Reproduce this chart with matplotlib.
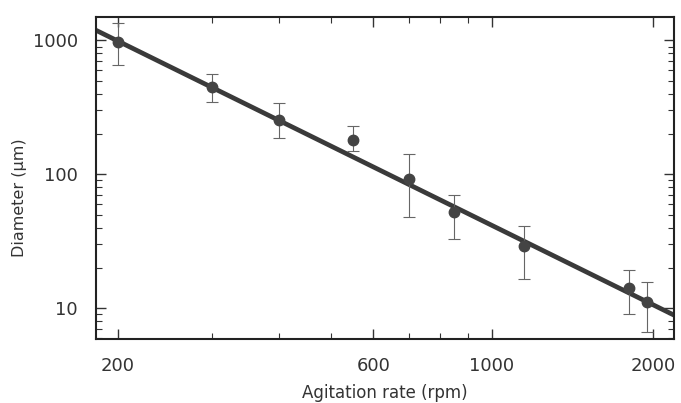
import matplotlib
matplotlib.use("Agg")
import matplotlib.pyplot as plt
import numpy as np
from matplotlib.ticker import FixedLocator, NullFormatter

plt.rcParams['font.family'] = ['DejaVu Sans']

# agitation rate (rpm) and droplet diameter (um) with error bar limits
rpm = [200, 300, 400, 550, 700, 850, 1150, 1800, 1950]
diam = [980, 446, 253, 182, 92, 52, 29, 14.1, 11.1]
diam_hi = [1360, 558, 339, 229, 141, 70, 41, 19.2, 15.6]
diam_lo = [651, 350, 186, 150, 48, 32.7, 16.4, 9.0, 6.7]

# power-law fit: D = D200 * (N / 200) ** slope
fit_d200 = 990
fit_slope = -1.97

x_ticks = [200, 600, 1000, 2000]
x_minor = [300, 400, 500, 700, 800, 900]
y_ticks = [10, 100, 1000]

ink = '#333333'

fig = plt.figure(figsize=(6.81, 4.03), dpi=100)
ax = fig.add_axes([0.141, 0.159, 0.849, 0.799])

xl = (182, 2190)
yl = (5.9, 1500)

xf = np.geomspace(xl[0], xl[1], 50)
ax.plot(xf, fit_d200 * (xf / 200.0) ** fit_slope, color='#3a3a3a', lw=3.4,
        solid_capstyle='butt', zorder=2)

d = np.array(diam)
yerr = [d - np.array(diam_lo), np.array(diam_hi) - d]
ax.errorbar(rpm, diam, yerr=yerr, fmt='o', color='#444444', ms=7.5,
            ecolor='#666666', elinewidth=0.8, capsize=4, capthick=0.8, zorder=3)

ax.set_xscale('log')
ax.set_yscale('log')
ax.set_xlim(*xl)
ax.set_ylim(*yl)

ax.xaxis.set_major_locator(FixedLocator(x_ticks))
ax.set_xticklabels([str(v) for v in x_ticks])
ax.xaxis.set_minor_locator(FixedLocator(x_minor))
ax.xaxis.set_minor_formatter(NullFormatter())

ax.yaxis.set_major_locator(FixedLocator(y_ticks))
ax.set_yticklabels([str(v) for v in y_ticks])
ax.yaxis.set_minor_locator(FixedLocator(
    [m * 10 ** e for e in range(0, 4) for m in range(2, 10)]))
ax.yaxis.set_minor_formatter(NullFormatter())

ax.tick_params(which='both', direction='in', top=True, right=True,
               colors=ink, labelsize=13)
ax.tick_params(which='major', length=7, width=1.0)
ax.tick_params(which='minor', length=4, width=0.8)
ax.tick_params(axis='x', which='major', pad=13)
ax.tick_params(axis='y', which='major', pad=13)

for s in ax.spines.values():
    s.set_linewidth(1.5)
    s.set_color('#222222')

ax.set_xlabel('Agitation rate (rpm)', fontsize=12, color=ink)
ax.set_ylabel('Diameter (\u03bcm)', fontsize=11.5, color=ink)
ax.xaxis.set_label_coords(0.5, -0.14)
ax.yaxis.set_label_coords(-0.12, 0.44)

fig.savefig('out.png', dpi=100)
